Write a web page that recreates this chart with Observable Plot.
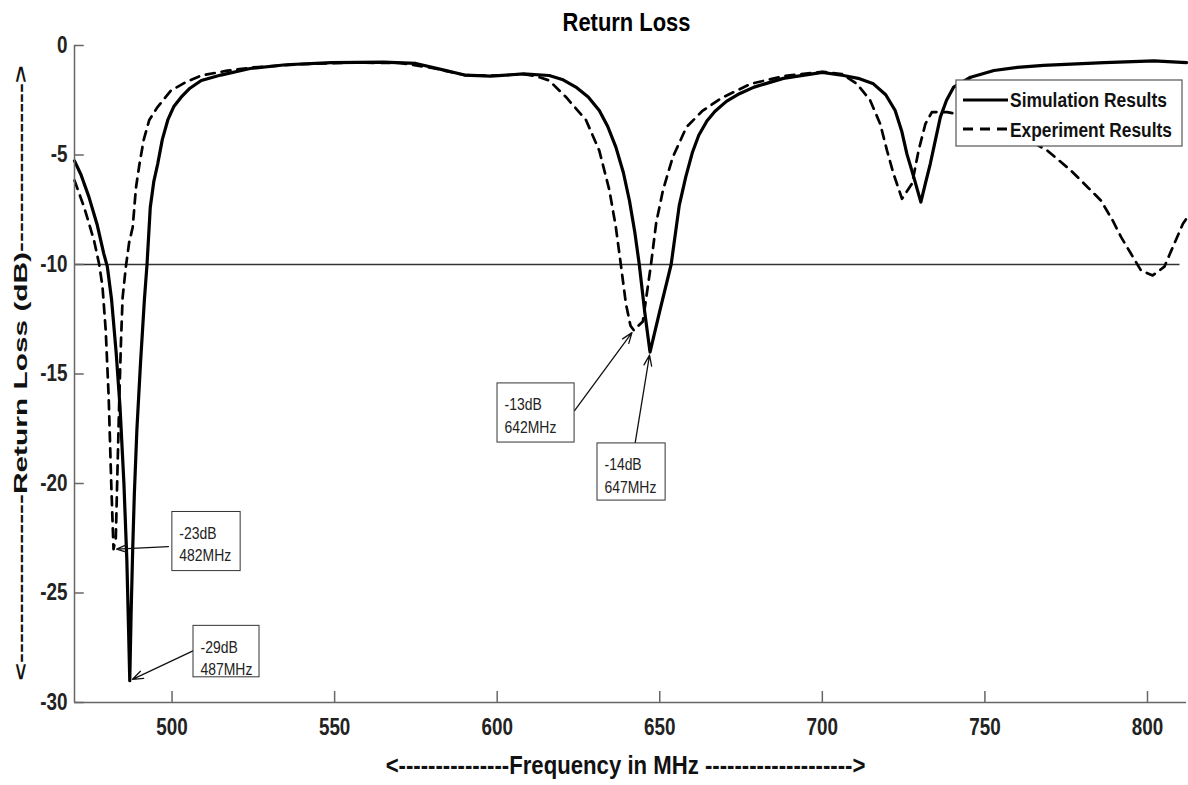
<!DOCTYPE html>
<html>
<head>
<meta charset="utf-8">
<script src="https://cdn.jsdelivr.net/npm/d3@7"></script>
<script src="https://cdn.jsdelivr.net/npm/@observablehq/plot@0.6"></script>
<style>
  html, body { margin: 0; padding: 0; background: #fff; }
  #chart svg { display: block; }
</style>
</head>
<body>
<div id="chart"></div>
<script>
const FONT = '"Liberation Sans", Arial, Helvetica, sans-serif';
// horizontal text is set condensed
const CONDENSE = 0.82;

// Simulated return loss: frequency (MHz) and S11 (dB)
const simFreq = [470, 472, 474.4, 477, 479, 480.1, 481.4, 482.8, 484, 485.2, 486.1, 486.6, 487,
  487.4, 487.9, 488.4, 489.2, 490.3, 491.5, 492.3, 493.3, 494.4, 495.6, 497, 498.7, 500.5, 502.8,
  505.5, 509, 515, 524, 535, 549, 565, 575, 583, 590, 598, 608, 616, 620, 624.2, 628, 631.4, 634,
  636.5, 638.8, 640.7, 642.3, 643.7, 645.4, 647, 650.2, 653.5, 656, 658, 660, 662, 664.5, 667,
  670.5, 674.5, 679, 688, 700, 706.5, 711, 715.7, 719.5, 722.4, 724.4, 726, 728.1, 730.3, 731.7, 733.2,
  734.8, 736.3, 738.2, 740.4, 745.6, 752.8, 760, 768, 786.7, 802, 812];
const simLoss = [-5.27, -5.9, -6.9, -8.2, -9.5, -10.1, -11.6, -14, -16.5, -20, -23.5, -26.5, -29,
  -26, -23, -20.5, -17.5, -14.5, -11.6, -10, -7.4, -6.2, -5.4, -4.3, -3.4, -2.8, -2.36,
  -1.95, -1.6, -1.35, -1.05, -0.88, -0.78, -0.76, -0.82, -1.1, -1.35, -1.4, -1.3, -1.37, -1.55, -1.9, -2.35, -2.97, -3.7,
  -4.64, -5.8, -7.1, -8.5, -10, -12.2, -14, -12, -10, -7.3, -6.0, -4.9, -4.1, -3.45, -3.0,
  -2.55, -2.2, -1.9, -1.5, -1.23, -1.37, -1.5, -1.75, -2.25, -2.97, -3.9, -4.95, -6.0, -7.15, -6.3, -5.4,
  -4.3, -3.27, -2.5, -1.9, -1.45, -1.14, -1.0, -0.91, -0.78, -0.7, -0.78];

// Measured return loss: frequency (MHz) and S11 (dB)
const expFreq = [470, 473, 476, 477.6, 478.6, 479.6, 480.5, 481.3, 482, 482.7, 483.2, 483.8, 484.3,
  484.8, 485.8, 486.8, 487.9, 488.9, 490, 491.3, 493, 495.6, 499.7, 504.3, 509, 517, 525, 540, 555,
  570, 580, 590, 600, 608, 612, 616, 621.2, 627.3, 631.4, 634.5, 636.5, 638, 639.6, 641, 642, 644.8,
  647.3, 648.9, 651, 654, 658.2, 663, 669, 678, 688, 700, 706, 710.6, 714.7, 717.8, 719.9, 721.9,
  724.5, 727.6, 729.6, 731.7, 733.7, 738.4, 745, 755, 762, 769.2, 776.4, 781.6, 785.7, 789.3, 791.9,
  794.9, 798, 801.6, 805.2, 807.8, 810.9, 812];
const expLoss = [-6.16, -7.4, -8.9, -10, -11, -13, -16, -20, -23, -22.5, -19.5, -16, -13.5,
  -11.5, -10.1, -9.0, -8.3, -6.5, -5.4, -4.3, -3.4, -2.8, -2.05, -1.67, -1.37, -1.15, -1.0, -0.85, -0.78,
  -0.8, -1.02, -1.35, -1.38, -1.3, -1.4, -1.6, -2.36, -3.4, -4.8, -6.6, -8.3, -9.97, -11.8, -12.8, -13, -12.6,
  -10, -8.1, -6.6, -5.1, -3.73, -3.0, -2.4, -1.75, -1.4, -1.2, -1.3, -1.75, -2.5, -3.58, -4.8, -5.86,
  -7.0, -6.3, -4.8, -3.58, -3.04, -3.04, -3.25, -3.7, -4.2, -4.8, -5.7, -6.47, -7.08, -7.99, -8.75,
  -9.5, -10.27, -10.5, -10.1, -9.2, -8.14, -7.9];

const seriesNames = ["Simulation Results", "Experiment Results"];
const xTicks = [500, 550, 600, 650, 700, 750, 800];
const yTicks = [0, -5, -10, -15, -20, -25, -30];
const threshold = -10;

// Resonance callouts: frequency (MHz) and return loss (dB)
const calloutFreq = [482, 487, 642, 647];
const calloutLoss = [-23, -29, -13, -14];

// Where each callout box sits and where its arrow starts (data units)
const calloutPlacement = [
  {x1: 500.1, x2: 521.1, y1: -21.3, y2: -24.0, ax: 498.9, ay: -22.88},
  {x1: 506.6, x2: 526.9, y1: -26.5, y2: -28.85, ax: 506.6, ay: -27.63},
  {x1: 600.1, x2: 623.8, y1: -15.43, y2: -18.13, ax: 623.8, ay: -16.67},
  {x1: 630.85, x2: 651.8, y1: -18.17, y2: -20.78, ax: 642.2, ay: -18.36}
];

const sim = simFreq.map((f, i) => ({f, db: simLoss[i]}));
const exp = expFreq.map((f, i) => ({f, db: expLoss[i]}));
const callouts = calloutFreq.map((f, i) => ({
  f, db: calloutLoss[i],
  label: `${calloutLoss[i]}dB\n${f}MHz`,
  ...calloutPlacement[i]
}));

const titleText = "Return Loss";
const xLabel = "<---------------Frequency in MHz -------------------->";
const yLabel = "<-----------------Return Loss (dB)----------------->";

const axisGray = "#666";
const fmt = d => String(d);

const svg = Plot.plot({
  width: 1188,
  height: 785,
  marginLeft: 74,
  marginRight: 2,
  marginTop: 45,
  marginBottom: 83,
  x: {domain: [470, 812], axis: null},
  y: {domain: [-30, 0], axis: null},
  style: {fontFamily: FONT, background: "#fff", overflow: "visible"},
  marks: [
    // -10 dB reference line
    Plot.ruleY([threshold], {x1: 470, x2: 810, stroke: "#333", strokeWidth: 1.3}),
    Plot.line(exp, {x: "f", y: "db", stroke: "#000", strokeWidth: 2.7, strokeDasharray: "9,7"}),
    Plot.line(sim, {x: "f", y: "db", stroke: "#000", strokeWidth: 3.2}),
    // axis lines and inward ticks
    Plot.ruleX([470], {stroke: axisGray, strokeWidth: 1.5}),
    Plot.ruleY([-30], {stroke: axisGray, strokeWidth: 1.5}),
    Plot.ruleX(xTicks, {y1: -30, y2: -29.5, stroke: axisGray, strokeWidth: 1.5}),
    Plot.ruleY(yTicks, {x1: 470, x2: 473, stroke: axisGray, strokeWidth: 1.5}),
    Plot.axisX({ticks: xTicks, tickSize: 0, tickPadding: 16, fontSize: 23, fontWeight: "bold", fill: "#222", tickFormat: fmt}),
    Plot.axisY({ticks: yTicks, tickSize: 0, tickPadding: 7, fontSize: 23, fontWeight: "bold", fill: "#222", tickFormat: fmt}),
    // callouts
    Plot.arrow(callouts, {x1: "ax", y1: "ay", x2: "f", y2: "db", stroke: "#111", strokeWidth: 1.3, headLength: 13, headAngle: 40, insetEnd: 3}),
    Plot.rect(callouts, {x1: "x1", x2: "x2", y1: "y1", y2: "y2", fill: "#fff", stroke: "#333", strokeWidth: 1}),
    Plot.text(callouts, {x: "x1", y: "y1", text: "label", textAnchor: "start", lineAnchor: "top", dx: 7, dy: 11, fontSize: 17, lineHeight: 1.32, fill: "#222"}),
    // titles
    Plot.text([titleText], {text: d => d, frameAnchor: "top", textAnchor: "middle", dx: -4, dy: -23, lineAnchor: "middle", fontSize: 25, fontWeight: "bold", fill: "#000"}),
    Plot.text([xLabel], {text: d => d, frameAnchor: "bottom", textAnchor: "middle", dx: -5, dy: 63, lineAnchor: "middle", fontSize: 26, fontWeight: "bold", fill: "#111"}),
    Plot.text([yLabel], {text: d => d, frameAnchor: "left", textAnchor: "middle", dx: -54, dy: -1, rotate: -90, lineAnchor: "middle", fontSize: 19, fontWeight: "bold", fill: "#111"})
  ]
});

// Legend box
const lg = d3.select(svg).append("g").attr("font-family", FONT).attr("text-anchor", "start");
lg.append("rect").attr("x", 956).attr("y", 80).attr("width", 226).attr("height", 66)
  .attr("fill", "#fff").attr("stroke", "#555").attr("stroke-width", 1.2);
lg.append("line").attr("x1", 963).attr("x2", 1008).attr("y1", 100).attr("y2", 100)
  .attr("stroke", "#000").attr("stroke-width", 3.2);
lg.append("line").attr("x1", 963).attr("x2", 1008).attr("y1", 129).attr("y2", 129)
  .attr("stroke", "#000").attr("stroke-width", 3).attr("stroke-dasharray", "10,7");
const legendFit = {};
[[seriesNames[0], 107, 157], [seriesNames[1], 137, 162]].forEach(([t, y, L]) => {
  lg.append("text").attr("x", 1010).attr("y", y).attr("font-size", 21).attr("font-weight", "bold")
    .attr("text-anchor", "start").attr("fill", "#111").text(t);
  legendFit[t] = L;
});

document.getElementById("chart").appendChild(svg);

// Squeeze a text element horizontally (along its own baseline) about its anchor
function squeeze(node, s) {
  const x = +node.getAttribute("x") || 0;
  const y = +node.getAttribute("y") || 0;
  const t = node.getAttribute("transform") || "";
  node.setAttribute("transform", `${t} translate(${x},${y}) scale(${s},1) translate(${-x},${-y})`);
}

// Long labels get fixed lengths; all other text is condensed
const fitLengths = {[titleText]: 128, [xLabel]: 480, [yLabel]: 615, ...legendFit};
d3.select(svg).selectAll("text").each(function () {
  const L = fitLengths[this.textContent];
  if (L) {
    const w = this.getComputedTextLength();
    squeeze(this, w > 0 ? L / w : CONDENSE);
  } else {
    squeeze(this, CONDENSE);
  }
});
</script>
</body>
</html>
